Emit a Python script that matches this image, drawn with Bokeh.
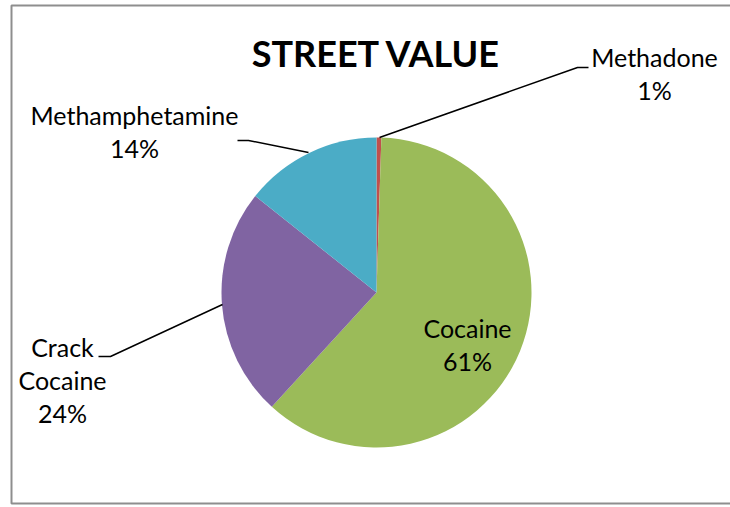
import math
from bokeh.plotting import figure
from bokeh.models import Range1d, ColumnDataSource
from bokeh.core.properties import value
from bokeh.embed import file_html
from bokeh.resources import INLINE

# ---- data ----
categories = ["Methadone", "Cocaine", "Crack Cocaine", "Methamphetamine"]
shares = [0.5, 61.3, 23.9, 14.3]          # slice sizes
pct_labels = ["1%", "61%", "24%", "14%"]  # labels as printed
colors = ["#C0504D", "#9BBB59", "#8064A2", "#4BACC6"]
title_text = "STREET VALUE"

W, H = 730, 507
p = figure(width=W, height=H, output_backend="svg", toolbar_location=None,
           x_range=Range1d(0, W), y_range=Range1d(-H, 0),
           min_border=0)
p.axis.visible = False
p.grid.visible = False
p.outline_line_color = None
p.background_fill_color = "white"

def Y(py):
    return -py

FONT = value("Lato")

# border of chart area
p.quad(left=[11], right=[735], top=[Y(5)], bottom=[Y(503)],
       fill_color=None, line_color="#8e8e8e", line_width=2)

# pie
cx, cy, r = 376, 292, 155
total = sum(shares)
starts, ends = [], []
cum = 0.0
for s in shares:
    starts.append(math.pi / 2 - 2 * math.pi * cum / total)
    cum += s
    ends.append(math.pi / 2 - 2 * math.pi * cum / total)
src = ColumnDataSource(dict(cat=categories, start=starts, end=ends, color=colors))
p.wedge(x=cx, y=Y(cy), radius=r, start_angle="start", end_angle="end",
        direction="clock", fill_color="color", line_color=None, source=src)

# title
p.text(x=[376], y=[Y(52)], text=[title_text], text_font=FONT,
       text_font_style="bold", text_font_size="36px", text_align="center",
       text_baseline="alphabetic", text_color="black")

# leader lines
p.line(x=[379, 577, 588], y=[Y(137), Y(67), Y(67)], line_color="black", line_width=1.5)
p.line(x=[237, 248, 308], y=[Y(140), Y(140), Y(152)], line_color="black", line_width=1.5)
p.line(x=[98, 110, 222], y=[Y(356), Y(356), Y(304)], line_color="black", line_width=1.5)

# data labels
lab_lines = [
    ([categories[0], pct_labels[0]], 654, 56),
    ([categories[1], pct_labels[1]], 467, 327),
    (["Crack", "Cocaine", pct_labels[2]], 62, 346),
    ([categories[3], pct_labels[3]], 134, 114),
]
xs, ys, ts = [], [], []
for lines, lx, ly in lab_lines:
    for i, t in enumerate(lines):
        xs.append(lx)
        ys.append(Y(ly + i * 33))
        ts.append(t)
p.text(x=xs, y=ys, text=ts, text_font=FONT, text_font_size="25px",
       text_align="center", text_baseline="alphabetic", text_color="black")

open("out.html", "w").write(file_html(p, INLINE))
